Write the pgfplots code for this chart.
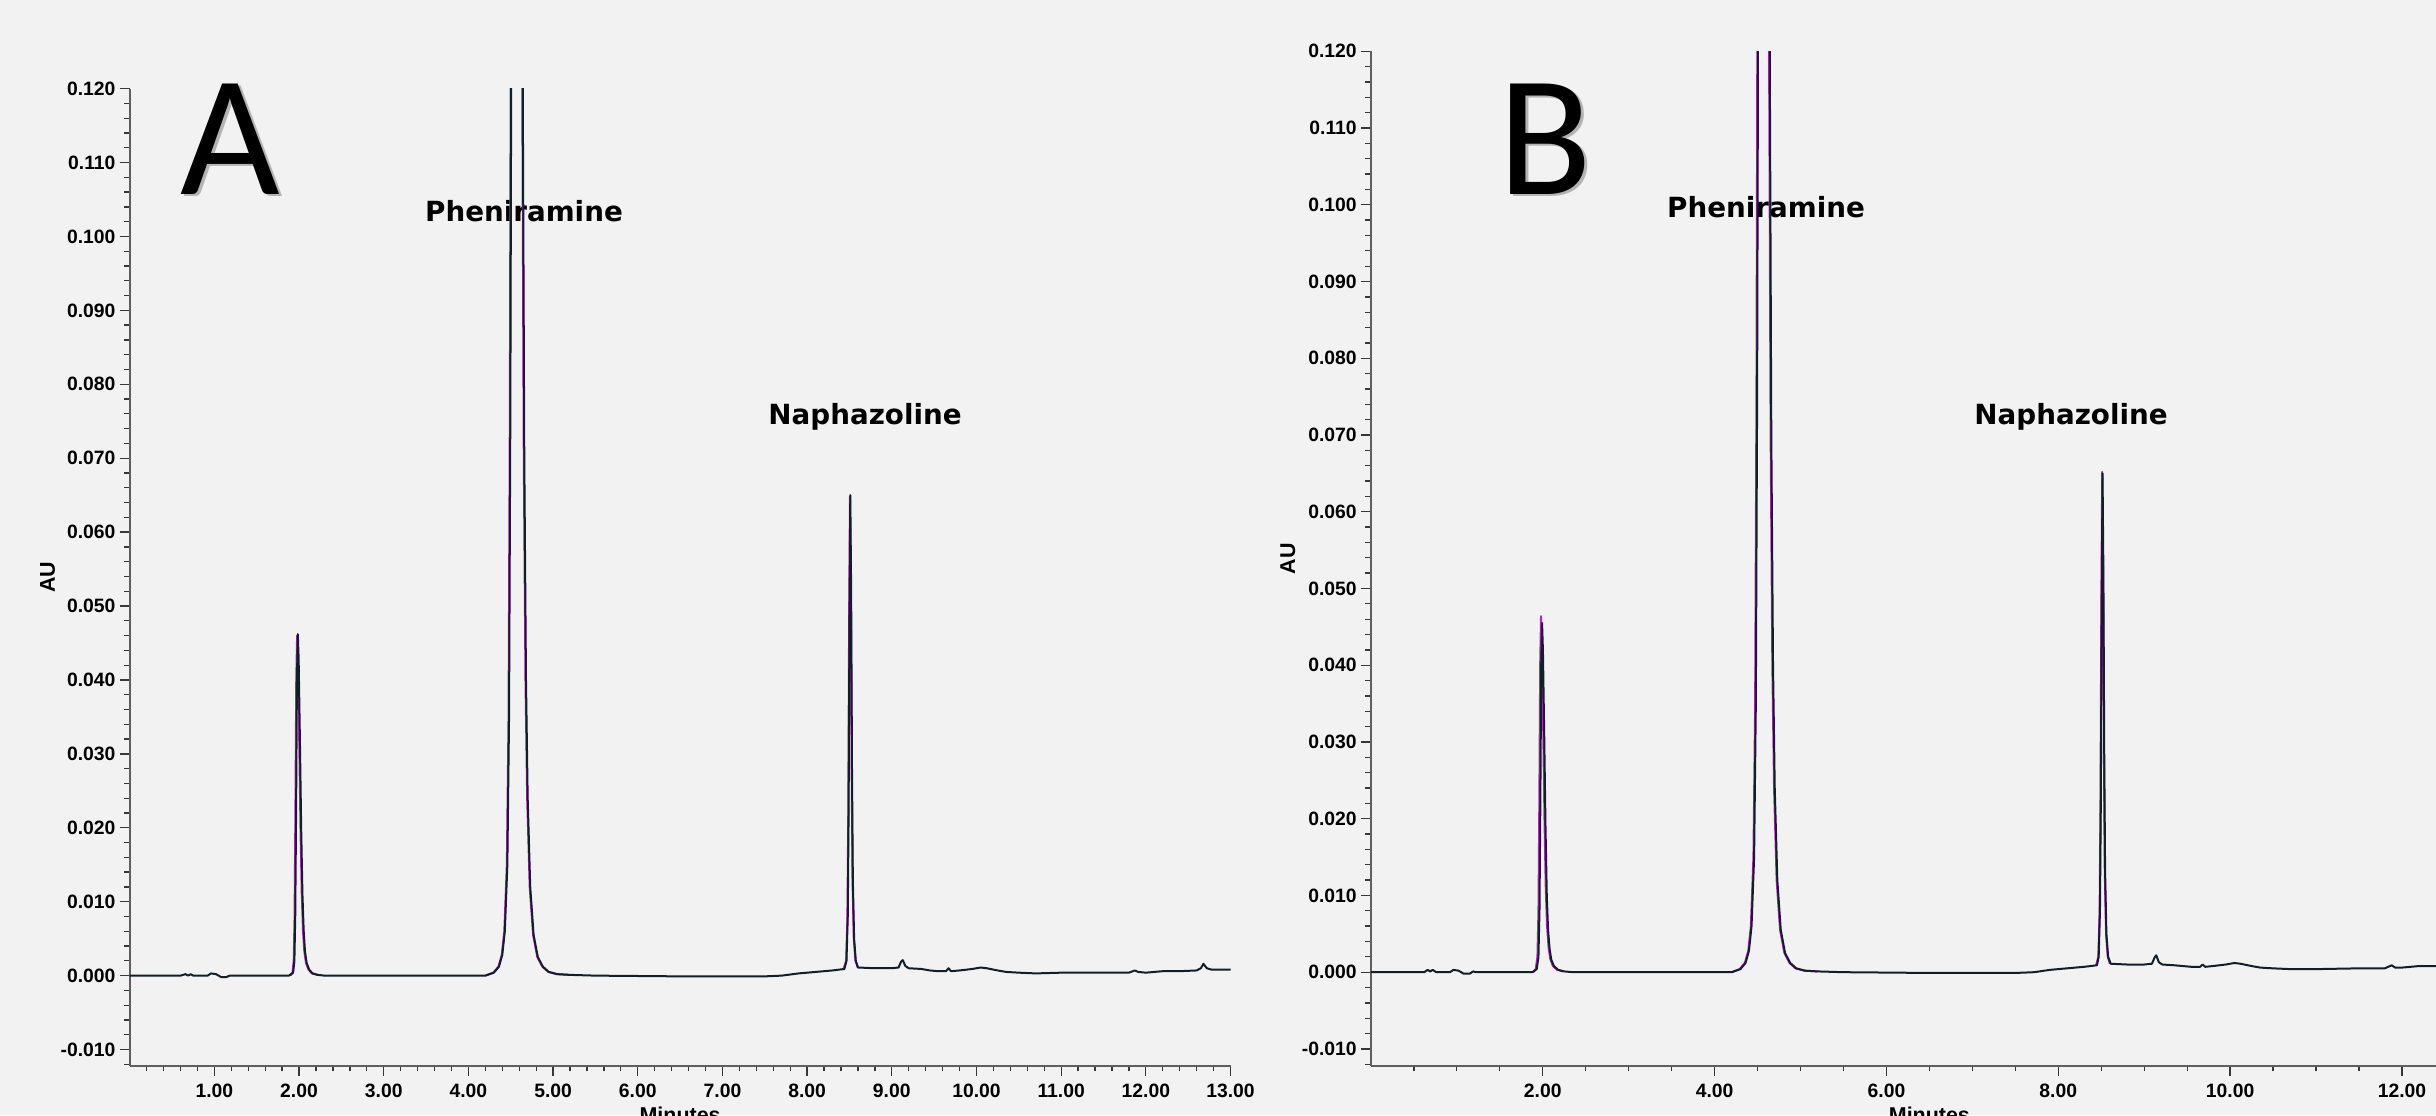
\documentclass[border=0pt]{standalone}
\usepackage{pgfplots}
\pgfplotsset{compat=1.18}
\usepackage{fontspec}
\setmainfont{Liberation Sans}
\newfontfamily\dejavu{DejaVu Sans}
\newfontfamily\carlito{Carlito}
\newlength{\px}
\setlength{\px}{0.1mm}
\definecolor{bg}{RGB}{242,242,242}
\definecolor{axisgray}{RGB}{95,95,95}
\definecolor{tickgray}{RGB}{55,55,55}
\definecolor{trace}{RGB}{18,30,40}
\definecolor{magtrace}{RGB}{180,40,200}
\newcommand{\tickfont}{\bfseries\fontsize{5.5}{6}\selectfont}
\newcommand{\labfont}{\bfseries\fontsize{6.1}{7}\selectfont}
\newcommand{\annfont}{\dejavu\bfseries\fontsize{7.9}{9}\selectfont}
\newcommand{\bigfont}{\carlito\fontsize{49}{50}\selectfont}
\pgfplotsset{
  chrom/.style={
    scale only axis, anchor=south west,
    axis lines=left,
    every outer x axis line/.append style={-},
    every outer y axis line/.append style={-},
    axis line style={-, draw=axisgray, line width=2\px},
    tick align=outside, major tick length=10\px, minor tick length=5.5\px,
    every tick/.style={draw=tickgray, line width=1.3\px},
    ymin=-0.0122, ymax=0.12,
    ytick={-0.01,0,0.01,0.02,0.03,0.04,0.05,0.06,0.07,0.08,0.09,0.1,0.11,0.12},
    minor ytick={-0.012,-0.008,-0.006,-0.004,-0.002,0.002,0.004,0.006,0.008,0.012,0.014,0.016,0.018,0.022,0.024,0.026,0.028,0.032,0.034,0.036,0.038,0.042,0.044,0.046,0.048,0.052,0.054,0.056,0.058,0.062,0.064,0.066,0.068,0.072,0.074,0.076,0.078,0.082,0.084,0.086,0.088,0.092,0.094,0.096,0.098,0.102,0.104,0.106,0.108,0.112,0.114,0.116,0.118},
    scaled y ticks=false, scaled x ticks=false,
    /pgf/number format/assume math mode=true,
    yticklabel style={/pgf/number format/.cd, fixed, fixed zerofill, precision=3, /tikz/.cd, font=\tickfont, inner sep=1pt},
    xticklabel style={/pgf/number format/.cd, fixed, fixed zerofill, precision=2, /tikz/.cd, font=\tickfont, inner sep=2pt},
    xlabel={Minutes}, ylabel={AU},
    label style={font=\labfont},
    every axis plot/.append style={line width=2\px, line join=round},
  }
}
\begin{document}
\begin{tikzpicture}
\useasboundingbox (0,0) rectangle (2436\px,1115\px);
\clip (0,0) rectangle (2436\px,1115\px);
\fill[bg] (0,0) rectangle (2436\px,1115\px);

% annotations (under the traces)
\node[font=\annfont, anchor=base, inner sep=0pt] at (524\px, 894\px) {Pheniramine};
\node[font=\annfont, anchor=base, inner sep=0pt] at (865\px, 691\px) {Naphazoline};
\node[font=\annfont, anchor=base, inner sep=0pt] at (1766\px, 897\px) {Pheniramine};
\node[font=\annfont, anchor=base, inner sep=0pt] at (2071\px, 691\px) {Naphazoline};
\node[font=\bigfont, anchor=base, inner sep=0pt, text=black!45, opacity=0.6] at (233\px, 918\px) {A};
\node[font=\bigfont, anchor=base, inner sep=0pt] at (230\px, 921\px) {A};
\node[font=\bigfont, anchor=base, inner sep=0pt, text=black!45, opacity=0.6] at (1548\px, 918\px) {B};
\node[font=\bigfont, anchor=base, inner sep=0pt] at (1545\px, 921\px) {B};

% ---------------- Panel A ----------------
\begin{axis}[chrom, at={(129.7\px,49.2\px)}, width=1100.8\px, height=977.2\px,
  xmin=0, xmax=13,
  xtick={1,2,3,4,5,6,7,8,9,10,11,12,13},
  minor xtick={0.2,0.4,...,13},
  xlabel style={at={(axis description cs:0.5,-0.041)}, anchor=north, inner sep=0pt},
  ylabel style={at={(axis description cs:-0.0745,0.5)}, anchor=center, inner sep=0pt},
]
% magenta overlay (peaks)
\addplot[magtrace] coordinates {
(1.90,0.0000) (1.922,0.0004) (1.937,0.002) (1.947,0.008) (1.957,0.022) (1.967,0.040) (1.977,0.0460) (1.987,0.043) (2.002,0.032) (2.017,0.020) (2.032,0.011) (2.047,0.006) (2.062,0.0033) (2.082,0.0017) (2.112,0.0008) (2.152,0.0003) (2.22,0.0001)
};
\addplot[magtrace] coordinates {
(4.20,0.0000) (4.294,0.0004) (4.354,0.0012) (4.394,0.0028) (4.424,0.006) (4.454,0.015) (4.474,0.035) (4.489,0.075) (4.499,0.12) (4.514,0.20) (4.569,0.40) (4.614,0.22) (4.636,0.12) (4.654,0.07) (4.674,0.040) (4.694,0.024) (4.724,0.012) (4.764,0.0055) (4.814,0.0025) (4.874,0.0012) (4.944,0.0005) (5.044,0.0002) (5.2,0.0001)
};
\addplot[magtrace] coordinates {
(8.43,0.0009) (8.461,0.002) (8.476,0.008) (8.486,0.022) (8.496,0.048) (8.506,0.0648) (8.516,0.052) (8.526,0.028) (8.536,0.013) (8.551,0.005) (8.571,0.002) (8.60,0.0011)
};
% main trace
\addplot[trace] coordinates {
(0,0) (0.6,0) (0.66,0.0002) (0.69,0) (0.72,0.0002) (0.75,0) (0.92,0) (0.96,0.0003) (1.02,0.0002) (1.08,-0.0002) (1.14,-0.0002) (1.18,0) (1.88,0)
(1.93,0.0004) (1.945,0.002) (1.955,0.008) (1.965,0.022) (1.975,0.040) (1.985,0.0462) (1.995,0.043) (2.01,0.032) (2.025,0.020) (2.04,0.011) (2.055,0.006) (2.07,0.0033) (2.09,0.0017) (2.12,0.0008) (2.16,0.0003) (2.22,0.0001) (2.30,0)
(4.20,0) (4.30,0.0004) (4.36,0.0012) (4.40,0.0028) (4.43,0.006) (4.46,0.015) (4.48,0.035) (4.495,0.075) (4.505,0.12) (4.52,0.20) (4.575,0.40) (4.62,0.22) (4.642,0.12) (4.66,0.07) (4.68,0.040) (4.70,0.024) (4.73,0.012) (4.77,0.0055) (4.82,0.0025) (4.88,0.0012) (4.95,0.0005) (5.05,0.0002) (5.20,0.0001)
(5.5,0) (6.5,-0.0001) (7.5,-0.0001) (7.7,0) (7.9,0.0003) (8.1,0.0005) (8.3,0.0007) (8.44,0.0009)
(8.465,0.002) (8.48,0.008) (8.49,0.022) (8.50,0.048) (8.51,0.065) (8.52,0.052) (8.53,0.028) (8.54,0.013) (8.555,0.005) (8.575,0.002) (8.60,0.0011)
(8.8,0.001) (9.0,0.001) (9.08,0.0011) (9.11,0.0019) (9.13,0.0021) (9.16,0.0013) (9.2,0.001) (9.35,0.0009) (9.45,0.0007) (9.55,0.0006) (9.64,0.0006) (9.67,0.0010) (9.70,0.0006) (9.8,0.0007) (9.95,0.0009) (10.05,0.0011) (10.12,0.001) (10.25,0.0007) (10.35,0.0005) (10.5,0.0004) (10.7,0.0003) (11.0,0.0004) (11.5,0.0004) (11.8,0.0004) (11.87,0.0007) (11.91,0.0005) (12.0,0.0004) (12.1,0.0005) (12.2,0.0006) (12.4,0.0006) (12.6,0.0007) (12.65,0.001) (12.68,0.0016) (12.72,0.001) (12.78,0.0008) (13,0.0008)
};
\end{axis}

% ---------------- Panel B ----------------
\begin{axis}[chrom, at={(1370.9\px,49.2\px)}, width=1117\px, height=1014.5\px,
  xmin=0, xmax=13,
  xtick={2,4,6,8,10,12},
  minor xtick={0.5,1,...,13},
  xlabel style={at={(axis description cs:0.5,-0.0394)}, anchor=north, inner sep=0pt},
  ylabel style={at={(axis description cs:-0.0743,0.5)}, anchor=center, inner sep=0pt},
]
\addplot[magtrace] coordinates {
(1.89,0.0000) (1.918,0.0004) (1.938,0.002) (1.950,0.008) (1.960,0.022) (1.970,0.040) (1.980,0.0464) (1.990,0.043) (2.005,0.032) (2.020,0.020) (2.035,0.011) (2.050,0.006) (2.068,0.0032) (2.088,0.0017) (2.118,0.0008) (2.168,0.0003) (2.24,0.0001)
};
\addplot[magtrace] coordinates {
(4.20,0.0000) (4.292,0.0004) (4.352,0.0012) (4.392,0.0028) (4.422,0.006) (4.452,0.015) (4.472,0.035) (4.487,0.075) (4.497,0.12) (4.512,0.20) (4.567,0.40) (4.612,0.22) (4.634,0.12) (4.652,0.07) (4.672,0.040) (4.692,0.024) (4.722,0.012) (4.762,0.0055) (4.812,0.0025) (4.872,0.0012) (4.942,0.0005) (5.042,0.0002) (5.2,0.0001)
};
\addplot[magtrace] coordinates {
(8.44,0.0009) (8.466,0.002) (8.481,0.008) (8.491,0.022) (8.501,0.048) (8.511,0.0652) (8.521,0.052) (8.531,0.028) (8.541,0.013) (8.556,0.005) (8.576,0.002) (8.60,0.0011)
};
\addplot[trace] coordinates {
(0,0) (0.62,0) (0.66,0.0003) (0.69,0.0001) (0.72,0.0003) (0.76,0) (0.92,0) (0.96,0.0003) (1.02,0.0002) (1.08,-0.0002) (1.15,-0.0002) (1.19,0.0001) (1.22,0) (1.88,0)
(1.93,0.0004) (1.95,0.002) (1.962,0.008) (1.972,0.022) (1.982,0.040) (1.992,0.0455) (2.002,0.042) (2.017,0.031) (2.032,0.019) (2.047,0.010) (2.062,0.0055) (2.08,0.003) (2.10,0.0016) (2.13,0.0008) (2.18,0.0003) (2.25,0.0001) (2.35,0)
(4.20,0) (4.30,0.0004) (4.36,0.0012) (4.40,0.0028) (4.43,0.006) (4.46,0.015) (4.48,0.035) (4.495,0.075) (4.505,0.12) (4.52,0.20) (4.575,0.40) (4.62,0.22) (4.642,0.12) (4.66,0.07) (4.68,0.040) (4.70,0.024) (4.73,0.012) (4.77,0.0055) (4.82,0.0025) (4.88,0.0012) (4.95,0.0005) (5.05,0.0002) (5.20,0.0001)
(5.5,0) (6.5,-0.0001) (7.5,-0.0001) (7.72,0) (7.9,0.0003) (8.1,0.0005) (8.3,0.0007) (8.45,0.0009)
(8.47,0.002) (8.485,0.008) (8.495,0.022) (8.505,0.048) (8.515,0.065) (8.525,0.052) (8.535,0.028) (8.545,0.013) (8.56,0.005) (8.58,0.002) (8.61,0.0011)
(8.8,0.001) (9.0,0.001) (9.09,0.0011) (9.12,0.0019) (9.14,0.0022) (9.17,0.0013) (9.21,0.001) (9.35,0.0009) (9.45,0.0008) (9.55,0.0007) (9.65,0.0007) (9.68,0.0010) (9.71,0.0007) (9.8,0.0008) (9.95,0.0010) (10.05,0.0012) (10.12,0.0011) (10.25,0.0008) (10.35,0.0006) (10.5,0.0005) (10.7,0.0004) (11.0,0.0004) (11.5,0.0005) (11.8,0.0005) (11.88,0.0009) (11.92,0.0006) (12.0,0.0006) (12.1,0.0007) (12.2,0.0008) (12.4,0.0008) (12.6,0.0008) (12.65,0.0011) (12.68,0.0016) (12.72,0.0011) (12.78,0.0009) (13,0.0009)
};
\end{axis}
\end{tikzpicture}
\end{document}
